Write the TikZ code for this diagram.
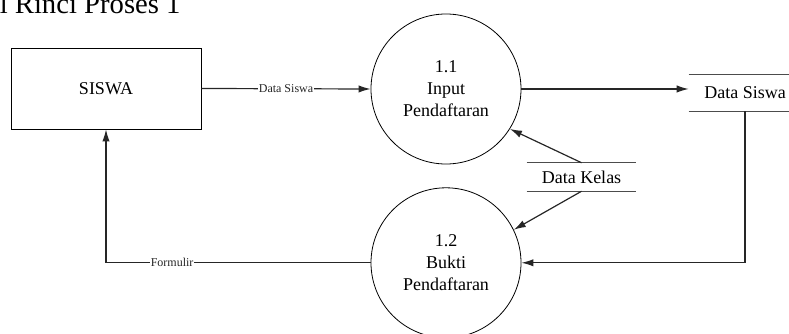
\documentclass[tikz,border=0pt]{standalone}
\usepackage{fontspec}
\setmainfont{Liberation Serif}
\usetikzlibrary{arrows.meta, positioning}

\begin{document}
\begin{tikzpicture}[x=0.75pt, y=-0.75pt, >={Latex[length=9pt, width=5.5pt]},
  proc/.style={draw, circle, line width=0.6pt, minimum size=112.5pt, inner sep=0pt,
    align=center, font=\fontsize{13.5}{16.5}\selectfont},
  store/.style={inner sep=0pt, font=\fontsize{13.5}{16}\selectfont},
  storeline/.style={line width=1pt, black!70},
  flow/.style={line width=0.9pt, black!85},
  lbl/.style={fill=white, inner sep=0.5pt, font=\fontsize{9}{10}\selectfont}]
  \useasboundingbox (0,0) rectangle (789,334);
  \clip (0,0) rectangle (789,334);

  \node[anchor=base west, inner sep=0pt, font=\fontsize{21.5}{24}\selectfont] (judul) at (-0.5,14) {l Rinci Proses 1};

  \node[draw, line width=0.6pt, minimum width=142.5pt, minimum height=60.75pt, font=\fontsize{13.5}{16}\selectfont] (siswa) at (106,88.5) {SISWA};
  \node[proc] (input) at (446,89) {1.1\\Input\\Pendaftaran};
  \node[proc, below=17.25pt of input] (bukti) {1.2\\Bukti\\Pendaftaran};

  \node[store, minimum width=84pt, minimum height=27pt] (dsiswa) at (745,93) {Data Siswa};
  \draw[storeline] (dsiswa.north west) -- (dsiswa.north east)
    (dsiswa.south west) -- (dsiswa.south east);
  \node[store, minimum width=81.75pt, minimum height=21pt] (dkelas) at (581.5,177) {Data Kelas};
  \draw[storeline] (dkelas.north west) -- (dkelas.north east)
    (dkelas.south west) -- (dkelas.south east);

  \draw[flow, ->] (siswa.east) -- node[lbl] {Data Siswa} (input.west);
  \draw[flow, ->] (input.east) -- (input.east -| dsiswa.west);
  \draw[flow, ->] (dsiswa.south) |- (bukti.east);
  \draw[flow, ->] (dkelas.north) -- (input.-32);
  \draw[flow, ->] (dkelas.south) -- (bukti.26);
  \draw[flow, ->] (bukti.west) -| node[lbl, pos=0.375] {Formulir} (siswa.south);
\end{tikzpicture}
\end{document}
